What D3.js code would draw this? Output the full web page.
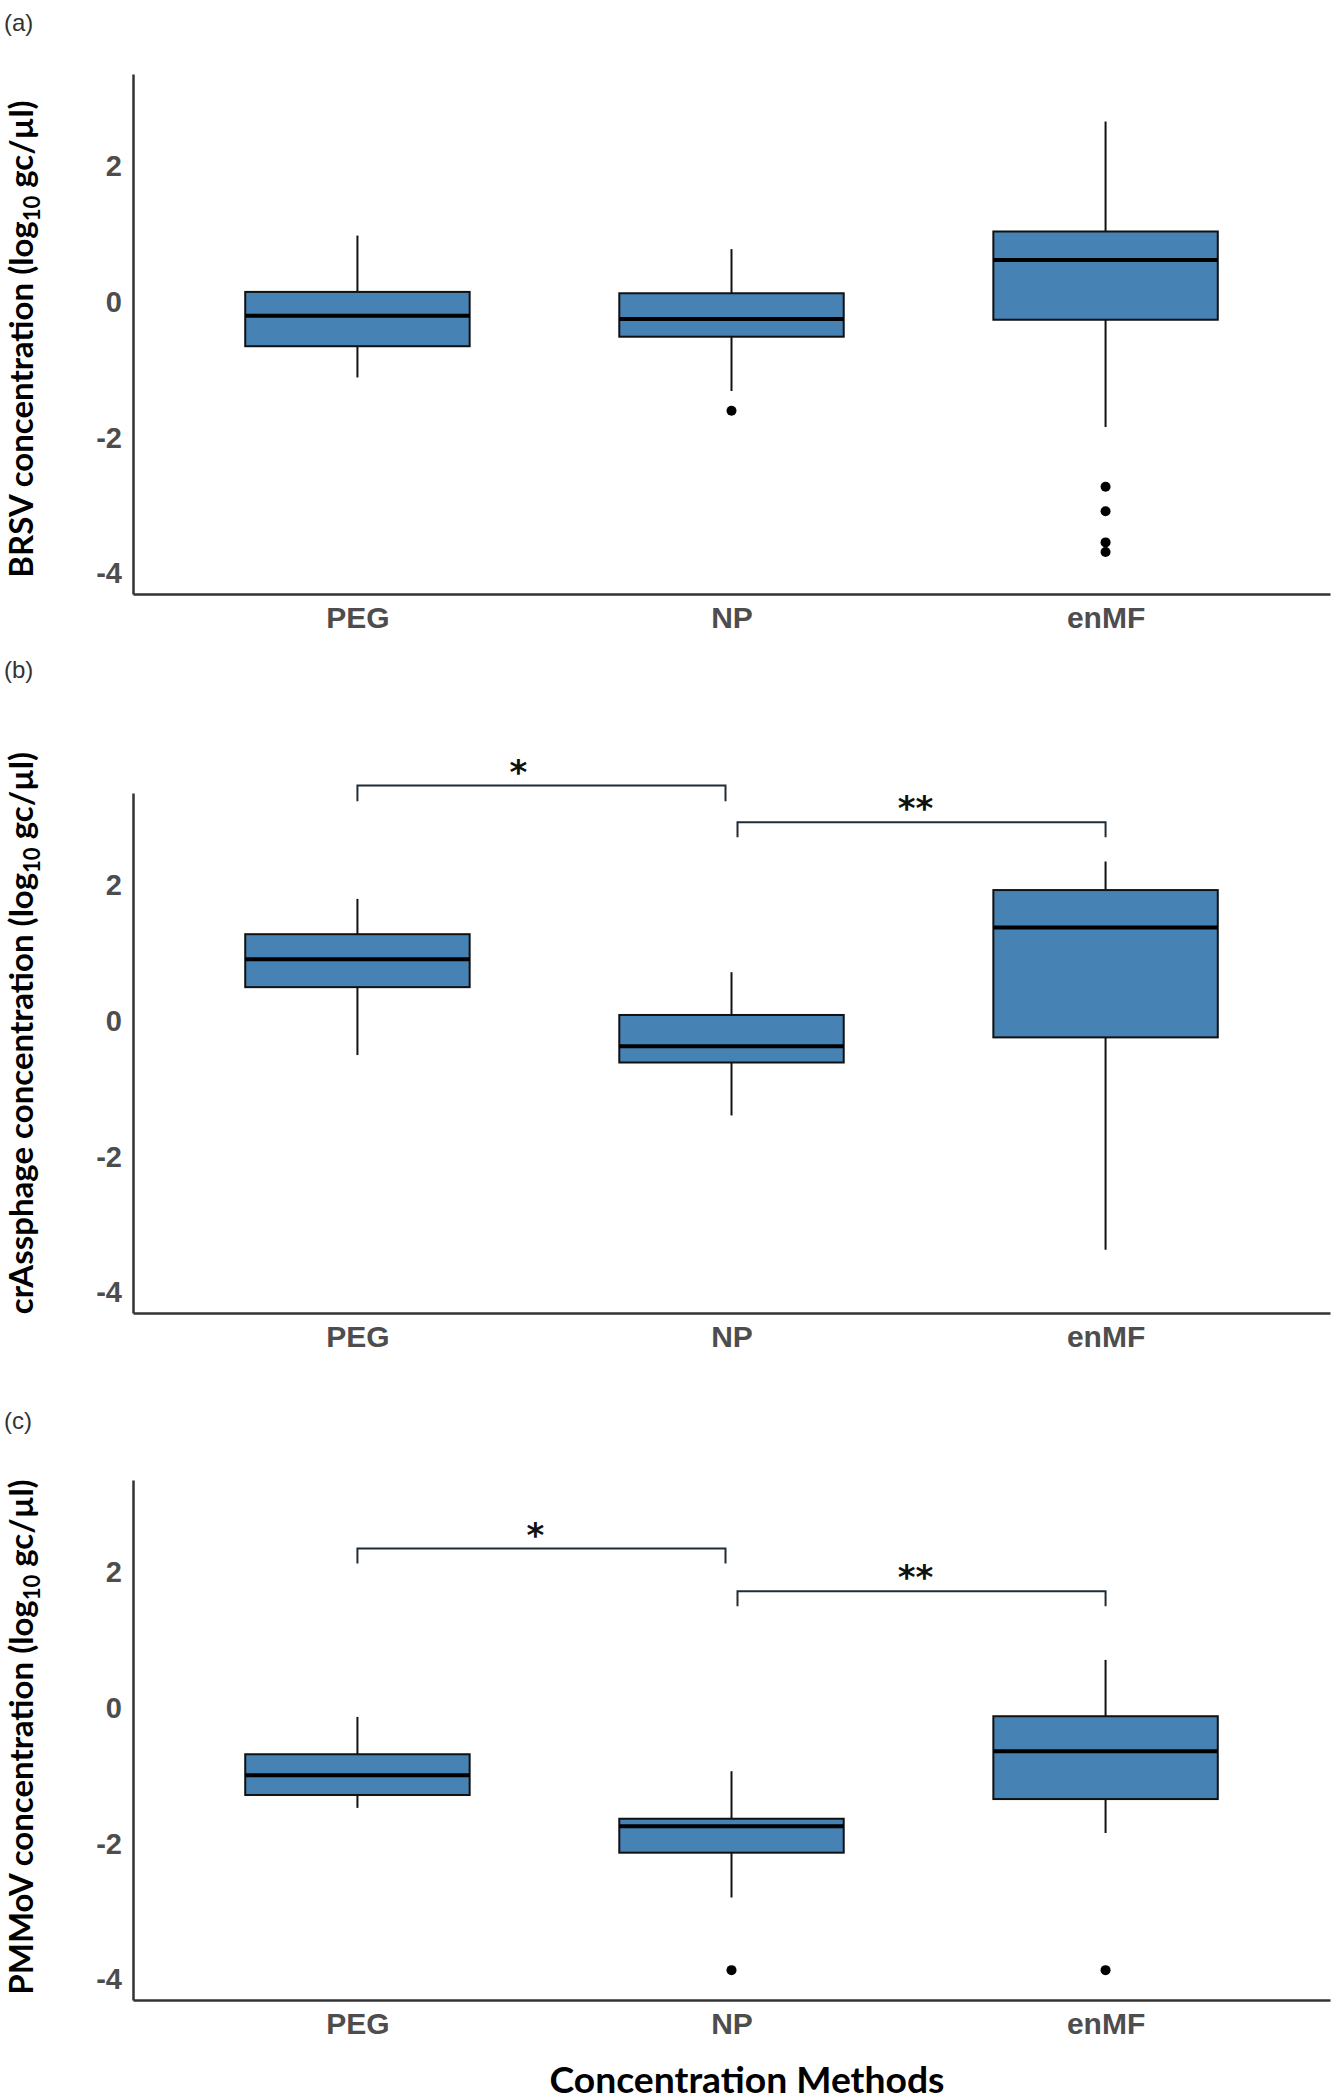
<!DOCTYPE html>
<html>
<head>
<meta charset="utf-8">
<title>Concentration methods boxplots</title>
<script src="https://cdn.jsdelivr.net/npm/d3@7"></script>
<style>
body {
  margin: 0;
  background: #fff;
}
#chart svg {
  display: block;
}
</style>
</head>
<body>
<div id="chart"></div>
<script>
// values (log10 gc/ul)
var methods = ["PEG", "NP", "enMF"];
var yTickValues = [-4, -2, 0, 2];
var yDomain = [-4.3, 3.36];

var brsvBoxes = [
  {method: "PEG",  min: -1.11, q1: -0.65, median: -0.20, q3: 0.15, max: 0.98},
  {method: "NP",   min: -1.31, q1: -0.51, median: -0.25, q3: 0.13, max: 0.78},
  {method: "enMF", min: -1.84, q1: -0.26, median: 0.62,  q3: 1.04, max: 2.66}
];
var brsvOutliers = [
  {method: "NP", value: -1.60},
  {method: "enMF", value: -2.72},
  {method: "enMF", value: -3.08},
  {method: "enMF", value: -3.54},
  {method: "enMF", value: -3.68}
];

var crassBoxes = [
  {method: "PEG",  min: -0.50, q1: 0.50,  median: 0.91,  q3: 1.28, max: 1.80},
  {method: "NP",   min: -1.39, q1: -0.61, median: -0.37, q3: 0.09, max: 0.72},
  {method: "enMF", min: -3.37, q1: -0.24, median: 1.38,  q3: 1.93, max: 2.35}
];
var crassOutliers = [];
var crassSignif = [
  {from: "PEG", to: "NP", y: 3.47, tip: 0.23, label: "*"},
  {from: "NP", to: "enMF", y: 2.93, tip: 0.22, label: "**"}
];

var pmmovBoxes = [
  {method: "PEG",  min: -1.47, q1: -1.28, median: -0.99, q3: -0.68, max: -0.13},
  {method: "NP",   min: -2.79, q1: -2.13, median: -1.74, q3: -1.63, max: -0.93},
  {method: "enMF", min: -1.84, q1: -1.34, median: -0.635, q3: -0.12, max: 0.71}
];
var pmmovOutliers = [
  {method: "NP", value: -3.86},
  {method: "enMF", value: -3.86}
];
var pmmovSignif = [
  {from: "PEG", to: "NP", y: 2.35, tip: 0.22, label: "*"},
  {from: "NP", to: "enMF", y: 1.72, tip: 0.22, label: "**"}
];

var W = 1333, H = 2100;
var left = 133, right = 1330;
var panelH = 520;

var panels = [
  {tag: "(a)", tagY: 31,   top: 74,   titleY: 339,  virus: "BRSV",
   boxes: brsvBoxes, outliers: brsvOutliers, signif: [], starDx: []},
  {tag: "(b)", tagY: 678,  top: 793,  titleY: 1033, virus: "crAssphage",
   boxes: crassBoxes, outliers: crassOutliers, signif: crassSignif, starDx: [-23, -6]},
  {tag: "(c)", tagY: 1429, top: 1480, titleY: 1737, virus: "PMMoV",
   boxes: pmmovBoxes, outliers: pmmovOutliers, signif: pmmovSignif, starDx: [-6, -6]}
];

var fill = "#4682b4";
var axisCol = "#333";
var tickCol = "#4d4d4d";

var svg = d3.select("#chart").append("svg")
  .attr("width", W)
  .attr("height", H);

var x = d3.scalePoint()
  .domain(methods)
  .range([left, right])
  .padding(0.6);
var boxW = x.step() * 0.6;

panels.forEach(function(p) {
  var bottom = p.top + panelH;
  var y = d3.scaleLinear().domain(yDomain).range([bottom, p.top]);
  var g = svg.append("g");

  g.append("text")
    .attr("x", 4)
    .attr("y", p.tagY)
    .attr("font-family", "Liberation Sans, Arial, sans-serif")
    .attr("font-size", 24)
    .attr("fill", "#333")
    .text(p.tag);

  // y axis title with subscript
  var t = g.append("text")
    .attr("transform", "translate(33," + p.titleY + ") rotate(-90)")
    .attr("text-anchor", "middle")
    .attr("font-family", "Lato, 'Open Sans', sans-serif")
    .attr("font-weight", "bold")
    .attr("font-size", 33)
    .attr("fill", "#000");
  t.append("tspan").text(p.virus + " concentration (log");
  t.append("tspan").attr("font-size", 22).attr("dy", 7).text("10");
  t.append("tspan").attr("dy", -7).text(" gc/\u00b5l)");

  var yAxis = g.append("g")
    .attr("transform", "translate(" + left + ",0)")
    .call(d3.axisLeft(y).tickValues(yTickValues).tickSize(0).tickPadding(11).tickFormat(d3.format("d")));
  var xAxis = g.append("g")
    .attr("transform", "translate(0," + bottom + ")")
    .call(d3.axisBottom(x).tickSize(0).tickPadding(13));

  [yAxis, xAxis].forEach(function(a) {
    a.select(".domain").attr("stroke", axisCol).attr("stroke-width", 2.5);
    a.selectAll("text")
      .attr("font-family", "Liberation Sans, Arial, sans-serif")
      .attr("font-weight", "bold")
      .attr("font-size", 30)
      .attr("fill", tickCol);
  });
  yAxis.selectAll("text").attr("font-size", 29).text(function(d) { return d < 0 ? "-" + Math.abs(d) : d; });

  var box = g.selectAll(".box").data(p.boxes).enter().append("g");
  box.append("line")
    .attr("x1", function(d) { return x(d.method); })
    .attr("x2", function(d) { return x(d.method); })
    .attr("y1", function(d) { return y(d.max); })
    .attr("y2", function(d) { return y(d.min); })
    .attr("stroke", "#111")
    .attr("stroke-width", 2);
  box.append("rect")
    .attr("x", function(d) { return x(d.method) - boxW / 2; })
    .attr("width", boxW)
    .attr("y", function(d) { return y(d.q3); })
    .attr("height", function(d) { return y(d.q1) - y(d.q3); })
    .attr("fill", fill)
    .attr("stroke", "#111")
    .attr("stroke-width", 2);
  box.append("line")
    .attr("x1", function(d) { return x(d.method) - boxW / 2; })
    .attr("x2", function(d) { return x(d.method) + boxW / 2; })
    .attr("y1", function(d) { return y(d.median); })
    .attr("y2", function(d) { return y(d.median); })
    .attr("stroke", "#000")
    .attr("stroke-width", 4);

  g.selectAll(".out").data(p.outliers).enter().append("circle")
    .attr("cx", function(d) { return x(d.method); })
    .attr("cy", function(d) { return y(d.value); })
    .attr("r", 5)
    .attr("fill", "#000");

  // significance brackets
  var gap = 6;
  p.signif.forEach(function(s, i) {
    var x1 = x(s.from) + (s.from === "NP" ? gap : 0);
    var x2 = x(s.to) - (s.to === "NP" ? gap : 0);
    g.append("path")
      .attr("d", "M" + x1 + "," + y(s.y - s.tip) + "V" + y(s.y) + "H" + x2 + "V" + y(s.y - s.tip))
      .attr("fill", "none")
      .attr("stroke", "#1f2d36")
      .attr("stroke-width", 2);
    g.append("text")
      .attr("x", (x1 + x2) / 2 + p.starDx[i])
      .attr("y", y(s.y) - 2)
      .attr("text-anchor", "middle")
      .attr("font-family", "DejaVu Sans, sans-serif")
      .attr("font-weight", "bold")
      .attr("font-size", 34)
      .attr("fill", "#111")
      .text(s.label);
  });
});

svg.append("text")
  .attr("x", 747)
  .attr("y", 2093)
  .attr("text-anchor", "middle")
  .attr("font-family", "Lato, 'Open Sans', sans-serif")
  .attr("font-weight", "bold")
  .attr("font-size", 36)
  .attr("textLength", 395)
  .attr("lengthAdjust", "spacingAndGlyphs")
  .attr("fill", "#000")
  .text("Concentration Methods");
</script>
</body>
</html>
